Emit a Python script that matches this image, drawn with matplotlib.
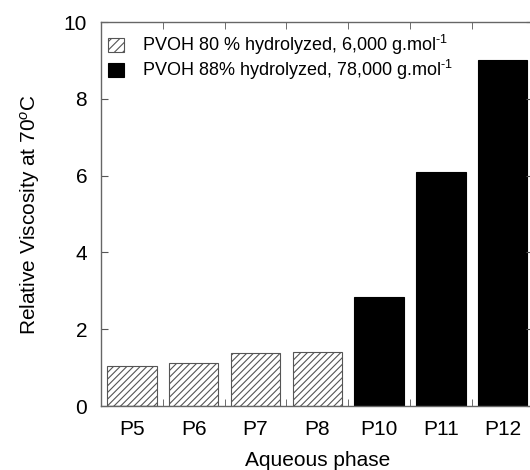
import matplotlib.pyplot as plt
import numpy as np

plt.rcParams['font.family'] = ['Liberation Sans', 'DejaVu Sans']
plt.rcParams['mathtext.fontset'] = 'custom'
plt.rcParams['mathtext.rm'] = 'Liberation Sans'
plt.rcParams['mathtext.it'] = 'Liberation Sans:italic'
plt.rcParams['hatch.color'] = '#666666'
plt.rcParams['hatch.linewidth'] = 0.8

phases = ['P5', 'P6', 'P7', 'P8', 'P10', 'P11', 'P12']
viscosity = [1.05, 1.12, 1.39, 1.42, 2.85, 6.09, 9.01]
# first four use the 80 % hydrolyzed PVOH, last three the 88 %
low_mw = [True, True, True, True, False, False, False]

fig = plt.figure(figsize=(5.3, 4.7), dpi=100)
ax = fig.add_axes([0.1906, 0.136, 0.816, 0.817])

x = np.arange(len(phases))
for xi, v, low in zip(x, viscosity, low_mw):
    if low:
        ax.bar(xi, v, width=0.8, color='white', edgecolor='#555555',
               linewidth=0.8, hatch='/////')
    else:
        ax.bar(xi, v, width=0.8, color='black', edgecolor='black', linewidth=0.8)

# legend handles
h1 = ax.bar([0], [0], color='white', edgecolor='#555555', linewidth=0.8, hatch='////')
h2 = ax.bar([0], [0], color='black', edgecolor='black', linewidth=0.8)
ax.legend([h1, h2],
          [r'PVOH 80 % hydrolyzed, 6,000 g.mol$^{\text{-1}}$',
           r'PVOH 88% hydrolyzed, 78,000 g.mol$^{\text{-1}}$'],
          loc='upper left', frameon=False, fontsize=13,
          handlelength=0.85, handleheight=0.85, handletextpad=1.0,
          labelspacing=0.05, borderaxespad=0.0, bbox_to_anchor=(0.0, 0.99))

ax.set_xlim(-0.5, len(phases) - 0.5)
ax.set_ylim(0, 10)
ax.set_xticks(x)
ax.set_xticklabels(phases)
ax.set_xticks(x[:-1] + 0.5, minor=True)
ax.set_yticks([0, 2, 4, 6, 8, 10])

ax.tick_params(axis='x', which='major', length=0, labelsize=15, pad=10)
ax.tick_params(axis='x', which='minor', direction='in', length=5,
               top=True, bottom=True, color='#555555')
ax.tick_params(axis='y', direction='in', length=5, labelsize=15,
               right=True, color='#555555', pad=10)

for s in ax.spines.values():
    s.set_color('#666666')
    s.set_linewidth(1.0)

ax.set_xlabel('Aqueous phase', fontsize=15, labelpad=9)
ax.set_ylabel('Relative Viscosity at 70$^{o}$C', fontsize=15, labelpad=16)

fig.savefig('out.png', dpi=100)
